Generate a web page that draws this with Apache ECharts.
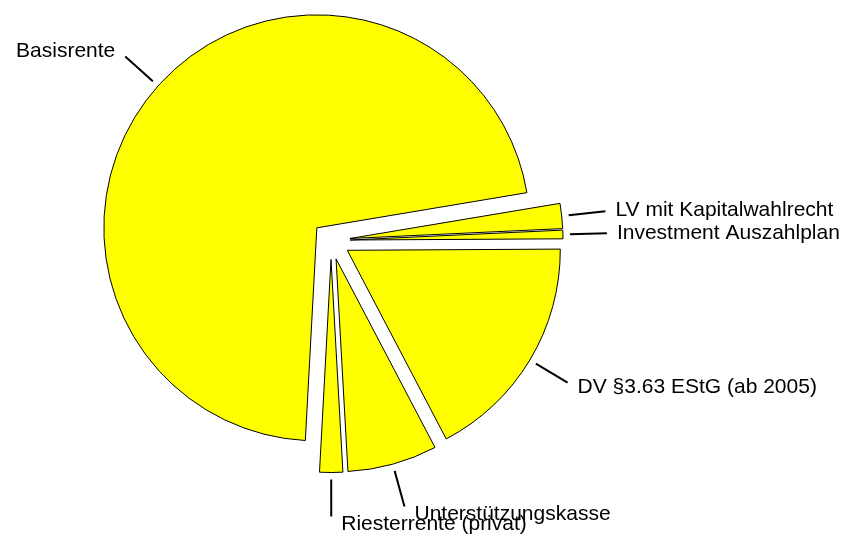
<!DOCTYPE html>
<html>
<head>
<meta charset="utf-8">
<script src="https://cdn.jsdelivr.net/npm/echarts@6.0.0/dist/echarts.min.js"></script>
<style>
  html, body { margin: 0; padding: 0; background: #fff; }
  #chart { width: 851px; height: 534px; }
</style>
</head>
<body>
<div id="chart"></div>
<script>
// Anteile in Prozent, im Uhrzeigersinn ab ca. 9.5° (rechts oben)
var categories = ['LV mit Kapitalwahlrecht', 'Investment Auszahlplan', 'DV §3.63 EStG (ab 2005)',
  'Unterstützungskasse', 'Riesterrente (privat)', 'Basisrente'];
var values = [1.9, 0.65, 17.4, 6.8, 1.75, 71.5];

var chart = echarts.init(document.getElementById('chart'));

var pieData = categories.map(function (name, i) {
  return { name: name, value: values[i], selected: true };
});

var option = {
  animation: false,
  series: [
    {
      type: 'pie',
      center: [331, 240.5],
      radius: 213,
      startAngle: 9.5,
      clockwise: true,
      selectedMode: 'multiple',
      selectedOffset: 19,
      avoidLabelOverlap: false,
      minShowLabelAngle: 0,
      // Beschriftung ein Stück weiter in Richtung der Führungslinie schieben
      labelLayout: function (p) {
        var pts = p.labelLinePoints;
        if (!pts || pts.length < 2) return { hideOverlap: false };
        var vx = pts[1][0] - pts[0][0], vy = pts[1][1] - pts[0][1];
        var len = Math.sqrt(vx * vx + vy * vy) || 1;
        return { dy: 8 * vy / len, hideOverlap: false };
      },
      itemStyle: {
        color: '#ffff00',
        borderColor: '#000',
        borderWidth: 1
      },
      select: {
        itemStyle: {
          color: '#ffff00',
          borderColor: '#000',
          borderWidth: 1
        }
      },
      emphasis: { disabled: true },
      label: {
        show: true,
        position: 'outside',
        alignTo: 'none',
        distanceToLabelLine: 10,
        fontFamily: 'Liberation Sans, Arial, sans-serif',
        fontSize: 21,
        color: '#000',
        formatter: '{b}'
      },
      labelLine: {
        show: true,
        length: 44,
        length2: 0,
        smooth: false,
        lineStyle: {
          color: '#000',
          width: 2,
          cap: 'butt',
          type: [0, 7, 37, 1000]
        }
      },
      data: pieData
    }
  ]
};

chart.setOption(option);
</script>
</body>
</html>
